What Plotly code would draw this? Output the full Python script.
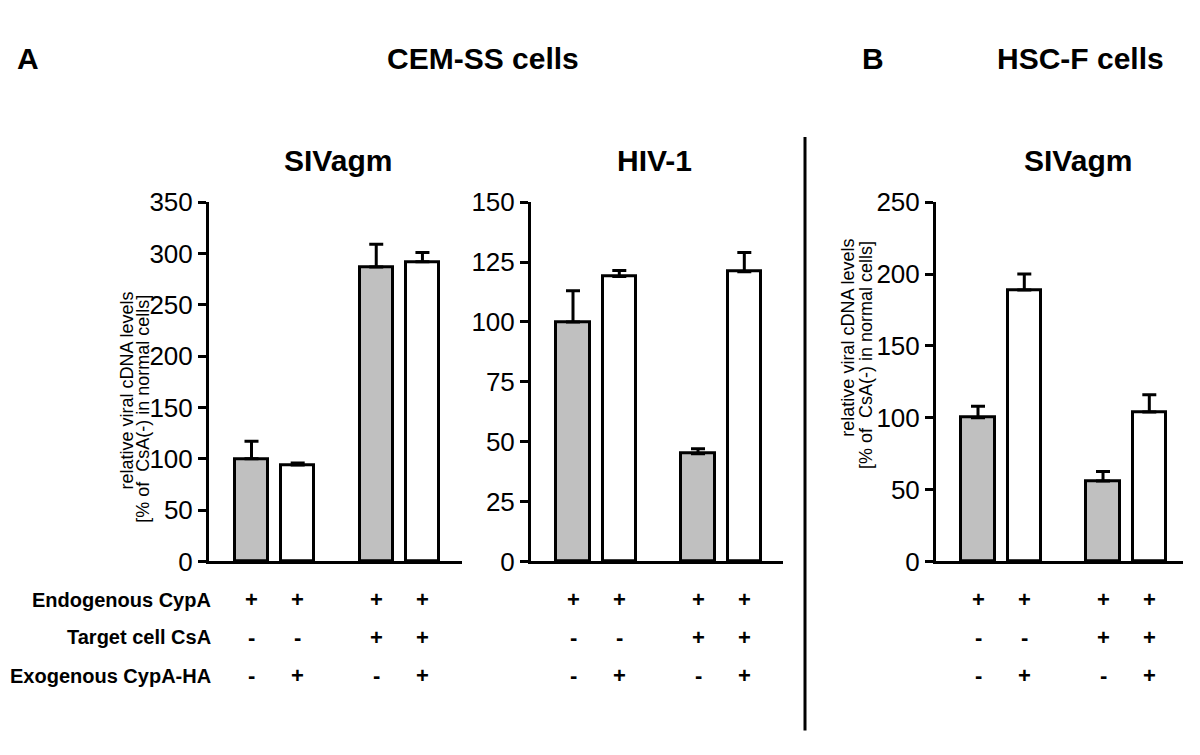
import plotly.graph_objects as go

# ---------------- data ----------------
conditions = ["CsA- / no CypA-HA", "CsA- / CypA-HA", "CsA+ / no CypA-HA", "CsA+ / CypA-HA"]

cem_sivagm_mean = [100, 94, 287, 292]
cem_sivagm_sem = [17, 2, 22, 9]

cem_hiv1_mean = [100, 119, 45, 121]
cem_hiv1_sem = [13, 2.5, 2, 8]

hscf_sivagm_mean = [100, 189, 56, 104]
hscf_sivagm_sem = [8, 11, 6.5, 12]

row_labels = ["Endogenous CypA", "Target cell CsA", "Exogenous CypA-HA"]
endogenous_cypa = ["+", "+", "+", "+"]
target_cell_csa = ["-", "-", "+", "+"]
exogenous_cypa_ha = ["-", "+", "-", "+"]

ytitle_line1 = "relative viral cDNA levels"
ytitle_line2 = "[% of&nbsp; CsA(-) in normal cells]"

# ---------------- layout helpers ----------------
W, H = 1200, 755
bar_pos = [0, 1, 2.7, 3.7]          # slot positions (layout, not data)
fills = ["#c0c0c0", "white", "#c0c0c0", "white"]
FONT = "Liberation Sans, Arial, Helvetica, sans-serif"


def X(px):
    return px / W


def Y(py):
    return 1 - py / H


panels = [
    (cem_sivagm_mean, cem_sivagm_sem, 209, 462, 251.5, 46.2, 350, 50, "SIVagm", 338),
    (cem_hiv1_mean, cem_hiv1_sem, 531, 783, 573, 46.3, 150, 25, "HIV-1", 655),
    (hscf_sivagm_mean, hscf_sivagm_sem, 936, 1183, 978, 46.3, 250, 50, "SIVagm", 1078),
]

fig = go.Figure()
annotations = []
y_top, y_bot = 195, 569

for i, (mean, sem, x0, x1, c0, unit, ymax, dtick, title, tcx) in enumerate(panels):
    n = "" if i == 0 else str(i + 1)
    fig.add_trace(go.Bar(
        x=bar_pos, y=mean, width=0.72,
        marker=dict(color=fills, line=dict(color="black", width=3)),
        error_y=dict(type="data", symmetric=False, array=sem, arrayminus=[0] * len(sem),
                     color="black", thickness=3, width=7),
        xaxis="x" + n, yaxis="y" + n, showlegend=False,
        hovertext=conditions,
    ))
    xr = [(x0 - c0) / unit, (x1 - c0) / unit]
    fig.layout["xaxis" + n] = dict(
        domain=[X(x0), X(x1)], range=xr, anchor="y" + n,
        showline=True, linecolor="black", linewidth=3,
        showticklabels=False, ticks="", showgrid=False, zeroline=False, fixedrange=True,
    )
    fig.layout["yaxis" + n] = dict(
        domain=[Y(y_bot), Y(y_top)], range=[0, ymax], anchor="x" + n,
        dtick=dtick, tick0=0, showline=True, linecolor="black", linewidth=3,
        ticks="outside", ticklen=8, tickwidth=3, tickcolor="black",
        tickfont=dict(family=FONT, size=26, color="black"),
        showgrid=False, zeroline=False, fixedrange=True,
    )
    annotations.append(dict(text="<b>%s</b>" % title, x=X(tcx), y=Y(152), xref="paper", yref="paper",
                            showarrow=False, xanchor="center", yanchor="middle",
                            font=dict(family=FONT, size=30, color="black")))
    for r, (row, ry) in enumerate(zip([endogenous_cypa, target_cell_csa, exogenous_cypa_ha], [609, 648, 688])):
        for p, s in zip(bar_pos, row):
            annotations.append(dict(text="<b>%s</b>" % s, x=p, y=Y(ry), xref="x" + n, yref="paper",
                                    showarrow=False, xanchor="center", yanchor="middle",
                                    font=dict(family=FONT, size=22, color="black")))

for lab, ry in zip(row_labels, [609, 648, 688]):
    annotations.append(dict(text="<b>%s</b>" % lab, x=X(213), y=Y(ry), xref="paper", yref="paper",
                            showarrow=False, xanchor="right", yanchor="middle",
                            font=dict(family=FONT, size=20, color="black")))

for (lx1, lx2, cy1, cy2) in [(127, 143, 391, 410), (848, 866, 336, 354)]:
    annotations.append(dict(text=ytitle_line1, x=X(lx1), y=Y(cy1), xref="paper", yref="paper",
                            showarrow=False, textangle=-90, xanchor="center", yanchor="middle",
                            font=dict(family=FONT, size=18, color="black")))
    annotations.append(dict(text=ytitle_line2, x=X(lx2), y=Y(cy2), xref="paper", yref="paper",
                            showarrow=False, textangle=-90, xanchor="center", yanchor="middle",
                            font=dict(family=FONT, size=18, color="black")))

for txt, cx in [("A", 28), ("CEM-SS cells", 483), ("B", 873), ("HSC-F cells", 1080)]:
    annotations.append(dict(text="<b>%s</b>" % txt, x=X(cx), y=Y(45), xref="paper", yref="paper",
                            showarrow=False, xanchor="center", yanchor="middle",
                            font=dict(family=FONT, size=30, color="black")))

fig.update_layout(
    width=W, height=H, margin=dict(l=0, r=0, t=0, b=0),
    paper_bgcolor="white", plot_bgcolor="white",
    annotations=annotations,
    shapes=[dict(type="line", xref="paper", yref="paper", x0=X(805), x1=X(805), y0=Y(127), y1=Y(745),
                 line=dict(color="black", width=3))],
    bargap=0,
)

fig.write_html("out.html", config={"displayModeBar": False},
               post_script="document.body.style.margin='0';")
